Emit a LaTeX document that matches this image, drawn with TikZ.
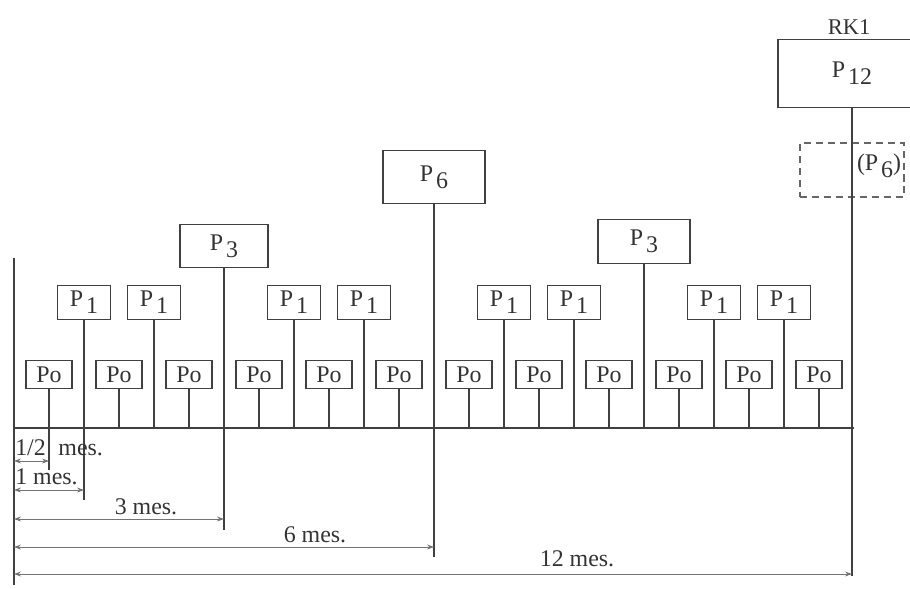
\documentclass[tikz,border=0pt]{standalone}
\usepackage{fontspec}
\setmainfont{Liberation Serif}
\usetikzlibrary{arrows.meta,positioning}
\newcommand{\Pidx}[1]{P\kern2pt\raisebox{-5pt}{#1}}
\tikzset{
  rev/.style 2 args={
    rectangle, draw=black!75, line width=0.9pt, text=black!80,
    minimum width=#1, minimum height=#2, inner sep=0pt,
    anchor=south, font=\fontsize{17}{19}\selectfont
  },
  revdash/.style 2 args={
    rectangle, draw=black!60, line width=0.9pt, dashed,
    dash pattern=on 5pt off 3.5pt,
    minimum width=#1, minimum height=#2, inner sep=0pt
  },
  axis/.style={black!75, line width=0.9pt},
  dim/.style={{Stealth[length=5pt,width=3.5pt]}-{Stealth[length=5pt,width=3.5pt]},
    black!55, line width=0.5pt},
  lbl/.style={font=\fontsize{17}{19}\selectfont, text=black!80, inner sep=0pt}
}
\begin{document}
\begin{tikzpicture}[x=0.025cm,y=-0.025cm]
  \useasboundingbox (0,0) rectangle (910,588);

  % time axis
  \coordinate (o) at (14,428);
  \coordinate (top) at (14,258);
  \coordinate (bot) at (14,585);
  \coordinate (end) at (854,428);
  \draw[axis] (top) -- (bot);
  \draw[axis] (o) -- (end);

  % revisions every half month
  \foreach \k in {1,3,...,23}{
    \node[rev={1.15cm}{0.7cm}] (po\k) at ({14+35*\k},389) {Po};
    \draw[axis] (po\k.south) -- (po\k.south |- o);
  }
  \foreach \k in {2,4,8,10,14,16,20,22}{
    \node[rev={1.325cm}{0.85cm}] (pa\k) at ({14+35*\k},320) {\Pidx{1}};
    \draw[axis] (pa\k.south) -- (pa\k.south |- o);
  }
  \node[rev={2.2cm}{1.075cm}] (pc6) at (224,268) {\Pidx{3}};
  \node[rev={2.3cm}{1.1cm}] (pc18) at (644,264) {\Pidx{3}};
  \node[rev={2.55cm}{1.325cm}] (pf12) at (434,204) {\Pidx{6}};
  \node[rev={3.7cm}{1.7cm}] (pl24) at (852,108) {\Pidx{12}};
  \node[revdash={2.6cm}{1.35cm}] (pfx) at (852,170) {};
  \node[lbl] (pfxt) at (879,166) {(\Pidx{6})};
  \node[lbl, font=\fontsize{16}{18}\selectfont] (rk) at (849,27) {RK1};

  \draw[axis] (pc18.south) -- (pc18.south |- o);

  % stems reaching the dimension lines
  \coordinate (e1) at (0,470);
  \coordinate (e2) at (0,500);
  \coordinate (e6) at (0,530);
  \coordinate (e12) at (0,557);
  \coordinate (e24) at (0,576);
  \draw[axis] (po1.south) -- (po1.south |- e1);
  \draw[axis] (pa2.south) -- (pa2.south |- e2);
  \draw[axis] (pc6.south) -- (pc6.south |- e6);
  \draw[axis] (pf12.south) -- (pf12.south |- e12);
  \draw[axis] (pl24.south) -- (pl24.south |- e24);

  % intervals
  \coordinate (a1) at (14,461);
  \coordinate (a2) at (14,490);
  \coordinate (a6) at (14,519);
  \coordinate (a12) at (14,547);
  \coordinate (a24) at (14,574);
  \draw[dim] (a1) -- (a1 -| po1.south);
  \draw[dim] (a2) -- (a2 -| pa2.south);
  \draw[dim] (a6) -- (a6 -| pc6.south);
  \draw[dim] (a12) -- (a12 -| pf12.south);
  \draw[dim] (a24) -- (a24 -| pl24.south);

  \node[lbl, anchor=west] (t1) at (15,448) {1/2\hspace{9pt}mes.};
  \node[lbl, anchor=west] (t2) at (15,477) {1 mes.};
  \node[lbl] (t6) at (146,507) {3 mes.};
  \node[lbl] (t12) at (315,535) {6 mes.};
  \node[lbl] (t24) at (577,559) {12 mes.};
\end{tikzpicture}
\end{document}
